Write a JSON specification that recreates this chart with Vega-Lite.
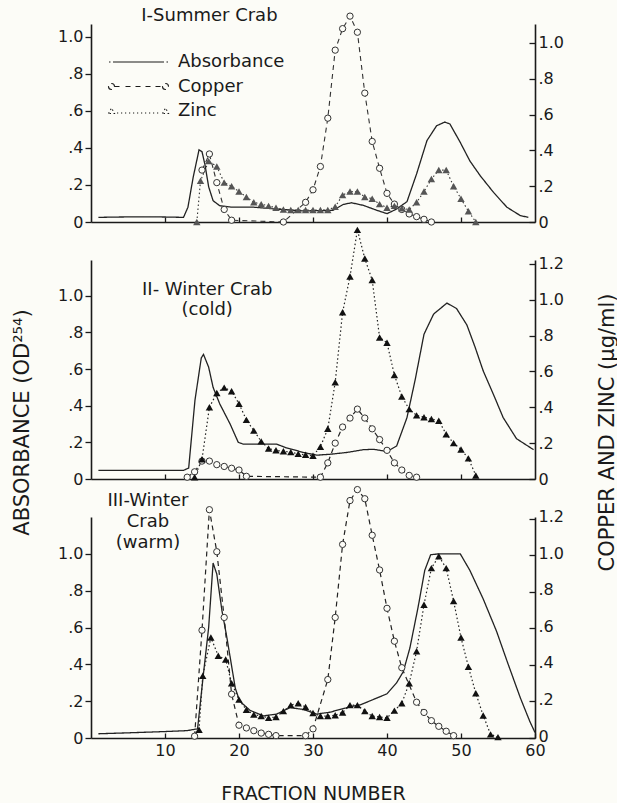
{
"$schema":"https://vega.github.io/schema/vega-lite/v6.json",
"background":"#fcfcf7",
"padding":{"left":11,"top":6,"right":0,"bottom":0},
"config":{"view":{"stroke":null},"font":"DejaVu Sans",
"axis":{"domainColor":"#1a1a1a","domainWidth":1.6,"tickColor":"#1a1a1a","tickWidth":1.3,"grid":false,"labelFont":"DejaVu Sans","labelFontSize":16,"labelColor":"#1a1a1a","titleFont":"DejaVu Sans","titleFontWeight":"normal","titleColor":"#1a1a1a","titleFontSize":21}},
"datasets":{"titles":[{"panel":"I","label":"I-Summer Crab"},{"panel":"II","label":"II- Winter Crab\n(cold)"},{"panel":"III","label":"III-Winter\nCrab\n(warm)"}]},
"data":{"values":[
{"panel":"I","series":"Absorbance","fraction":1,"value":0.025},{"panel":"I","series":"Absorbance","fraction":4,"value":0.027},{"panel":"I","series":"Absorbance","fraction":7,"value":0.028},{"panel":"I","series":"Absorbance","fraction":10,"value":0.027},{"panel":"I","series":"Absorbance","fraction":12.5,"value":0.025},{"panel":"I","series":"Absorbance","fraction":13.1,"value":0.08},{"panel":"I","series":"Absorbance","fraction":13.8,"value":0.24},{"panel":"I","series":"Absorbance","fraction":14.6,"value":0.39},{"panel":"I","series":"Absorbance","fraction":15.0,"value":0.38},{"panel":"I","series":"Absorbance","fraction":15.4,"value":0.31},{"panel":"I","series":"Absorbance","fraction":15.9,"value":0.19},{"panel":"I","series":"Absorbance","fraction":16.5,"value":0.115},{"panel":"I","series":"Absorbance","fraction":17.4,"value":0.088},{"panel":"I","series":"Absorbance","fraction":19,"value":0.08},{"panel":"I","series":"Absorbance","fraction":22,"value":0.08},{"panel":"I","series":"Absorbance","fraction":25,"value":0.07},{"panel":"I","series":"Absorbance","fraction":28.7,"value":0.06},{"panel":"I","series":"Absorbance","fraction":32.7,"value":0.063},{"panel":"I","series":"Absorbance","fraction":34.1,"value":0.095},{"panel":"I","series":"Absorbance","fraction":35.2,"value":0.104},{"panel":"I","series":"Absorbance","fraction":36.8,"value":0.09},{"panel":"I","series":"Absorbance","fraction":38.5,"value":0.065},{"panel":"I","series":"Absorbance","fraction":40,"value":0.045},{"panel":"I","series":"Absorbance","fraction":41.3,"value":0.07},{"panel":"I","series":"Absorbance","fraction":42.7,"value":0.11},{"panel":"I","series":"Absorbance","fraction":44,"value":0.26},{"panel":"I","series":"Absorbance","fraction":45.4,"value":0.44},{"panel":"I","series":"Absorbance","fraction":46.7,"value":0.52},{"panel":"I","series":"Absorbance","fraction":47.8,"value":0.54},{"panel":"I","series":"Absorbance","fraction":48.5,"value":0.53},{"panel":"I","series":"Absorbance","fraction":49.9,"value":0.43},{"panel":"I","series":"Absorbance","fraction":51.2,"value":0.33},{"panel":"I","series":"Absorbance","fraction":52.6,"value":0.25},{"panel":"I","series":"Absorbance","fraction":54.4,"value":0.16},{"panel":"I","series":"Absorbance","fraction":56.2,"value":0.08},{"panel":"I","series":"Absorbance","fraction":58,"value":0.035},{"panel":"I","series":"Absorbance","fraction":59.1,"value":0.025},
{"panel":"I","series":"Copper","fraction":15,"value":0.29},{"panel":"I","series":"Copper","fraction":16,"value":0.38},{"panel":"I","series":"Copper","fraction":17,"value":0.22},{"panel":"I","series":"Copper","fraction":18,"value":0.07},{"panel":"I","series":"Copper","fraction":19,"value":0.01},{"panel":"I","series":"Copper","fraction":26,"value":0.0},{"panel":"I","series":"Copper","fraction":29,"value":0.11},{"panel":"I","series":"Copper","fraction":30,"value":0.18},{"panel":"I","series":"Copper","fraction":31,"value":0.31},{"panel":"I","series":"Copper","fraction":32,"value":0.58},{"panel":"I","series":"Copper","fraction":33,"value":0.96},{"panel":"I","series":"Copper","fraction":34,"value":1.08},{"panel":"I","series":"Copper","fraction":35,"value":1.15},{"panel":"I","series":"Copper","fraction":36,"value":1.06},{"panel":"I","series":"Copper","fraction":37,"value":0.72},{"panel":"I","series":"Copper","fraction":38,"value":0.45},{"panel":"I","series":"Copper","fraction":39,"value":0.3},{"panel":"I","series":"Copper","fraction":40,"value":0.16},{"panel":"I","series":"Copper","fraction":41,"value":0.1},{"panel":"I","series":"Copper","fraction":42,"value":0.07},{"panel":"I","series":"Copper","fraction":43,"value":0.045},{"panel":"I","series":"Copper","fraction":44,"value":0.03},{"panel":"I","series":"Copper","fraction":45,"value":0.015},{"panel":"I","series":"Copper","fraction":46,"value":0.0},
{"panel":"I","series":"Zinc","fraction":14.3,"value":0.0},{"panel":"I","series":"Zinc","fraction":14.8,"value":0.23},{"panel":"I","series":"Zinc","fraction":15.9,"value":0.34},{"panel":"I","series":"Zinc","fraction":17,"value":0.31},{"panel":"I","series":"Zinc","fraction":18,"value":0.22},{"panel":"I","series":"Zinc","fraction":19,"value":0.2},{"panel":"I","series":"Zinc","fraction":20,"value":0.17},{"panel":"I","series":"Zinc","fraction":21,"value":0.14},{"panel":"I","series":"Zinc","fraction":22,"value":0.11},{"panel":"I","series":"Zinc","fraction":23,"value":0.1},{"panel":"I","series":"Zinc","fraction":24,"value":0.09},{"panel":"I","series":"Zinc","fraction":25,"value":0.08},{"panel":"I","series":"Zinc","fraction":26,"value":0.07},{"panel":"I","series":"Zinc","fraction":27,"value":0.067},{"panel":"I","series":"Zinc","fraction":28,"value":0.067},{"panel":"I","series":"Zinc","fraction":29,"value":0.067},{"panel":"I","series":"Zinc","fraction":30,"value":0.067},{"panel":"I","series":"Zinc","fraction":31,"value":0.067},{"panel":"I","series":"Zinc","fraction":32,"value":0.067},{"panel":"I","series":"Zinc","fraction":33,"value":0.085},{"panel":"I","series":"Zinc","fraction":34,"value":0.15},{"panel":"I","series":"Zinc","fraction":35,"value":0.17},{"panel":"I","series":"Zinc","fraction":36,"value":0.17},{"panel":"I","series":"Zinc","fraction":37,"value":0.14},{"panel":"I","series":"Zinc","fraction":38,"value":0.13},{"panel":"I","series":"Zinc","fraction":39,"value":0.1},{"panel":"I","series":"Zinc","fraction":40,"value":0.08},{"panel":"I","series":"Zinc","fraction":41,"value":0.09},{"panel":"I","series":"Zinc","fraction":42,"value":0.076},{"panel":"I","series":"Zinc","fraction":43,"value":0.07},{"panel":"I","series":"Zinc","fraction":44,"value":0.11},{"panel":"I","series":"Zinc","fraction":45,"value":0.17},{"panel":"I","series":"Zinc","fraction":46,"value":0.24},{"panel":"I","series":"Zinc","fraction":47,"value":0.29},{"panel":"I","series":"Zinc","fraction":48,"value":0.29},{"panel":"I","series":"Zinc","fraction":49,"value":0.2},{"panel":"I","series":"Zinc","fraction":50,"value":0.13},{"panel":"I","series":"Zinc","fraction":51,"value":0.06},{"panel":"I","series":"Zinc","fraction":52,"value":0.0},
{"panel":"II","series":"Absorbance","fraction":1,"value":0.047},{"panel":"II","series":"Absorbance","fraction":5,"value":0.047},{"panel":"II","series":"Absorbance","fraction":10,"value":0.047},{"panel":"II","series":"Absorbance","fraction":12.5,"value":0.047},{"panel":"II","series":"Absorbance","fraction":13.2,"value":0.06},{"panel":"II","series":"Absorbance","fraction":14.05,"value":0.43},{"panel":"II","series":"Absorbance","fraction":14.9,"value":0.66},{"panel":"II","series":"Absorbance","fraction":15.2,"value":0.68},{"panel":"II","series":"Absorbance","fraction":15.9,"value":0.61},{"panel":"II","series":"Absorbance","fraction":16.5,"value":0.5},{"panel":"II","series":"Absorbance","fraction":17.4,"value":0.41},{"panel":"II","series":"Absorbance","fraction":18.8,"value":0.3},{"panel":"II","series":"Absorbance","fraction":19.9,"value":0.2},{"panel":"II","series":"Absorbance","fraction":20.6,"value":0.19},{"panel":"II","series":"Absorbance","fraction":23.3,"value":0.19},{"panel":"II","series":"Absorbance","fraction":25.1,"value":0.19},{"panel":"II","series":"Absorbance","fraction":26.4,"value":0.17},{"panel":"II","series":"Absorbance","fraction":28.7,"value":0.145},{"panel":"II","series":"Absorbance","fraction":30.5,"value":0.13},{"panel":"II","series":"Absorbance","fraction":32.3,"value":0.135},{"panel":"II","series":"Absorbance","fraction":34.6,"value":0.145},{"panel":"II","series":"Absorbance","fraction":36.8,"value":0.16},{"panel":"II","series":"Absorbance","fraction":38.2,"value":0.162},{"panel":"II","series":"Absorbance","fraction":40,"value":0.15},{"panel":"II","series":"Absorbance","fraction":41.3,"value":0.18},{"panel":"II","series":"Absorbance","fraction":42.7,"value":0.335},{"panel":"II","series":"Absorbance","fraction":43.8,"value":0.54},{"panel":"II","series":"Absorbance","fraction":45,"value":0.79},{"panel":"II","series":"Absorbance","fraction":46.3,"value":0.9},{"panel":"II","series":"Absorbance","fraction":48.1,"value":0.96},{"panel":"II","series":"Absorbance","fraction":49.4,"value":0.93},{"panel":"II","series":"Absorbance","fraction":50.8,"value":0.84},{"panel":"II","series":"Absorbance","fraction":51.9,"value":0.72},{"panel":"II","series":"Absorbance","fraction":53,"value":0.59},{"panel":"II","series":"Absorbance","fraction":54.4,"value":0.46},{"panel":"II","series":"Absorbance","fraction":55.7,"value":0.335},{"panel":"II","series":"Absorbance","fraction":57.5,"value":0.22},{"panel":"II","series":"Absorbance","fraction":59.8,"value":0.16},
{"panel":"II","series":"Copper","fraction":13,"value":0.01},{"panel":"II","series":"Copper","fraction":14,"value":0.04},{"panel":"II","series":"Copper","fraction":15,"value":0.1},{"panel":"II","series":"Copper","fraction":16,"value":0.1},{"panel":"II","series":"Copper","fraction":17,"value":0.08},{"panel":"II","series":"Copper","fraction":18,"value":0.07},{"panel":"II","series":"Copper","fraction":19,"value":0.06},{"panel":"II","series":"Copper","fraction":20,"value":0.05},{"panel":"II","series":"Copper","fraction":21,"value":0.015},{"panel":"II","series":"Copper","fraction":31,"value":0.01},{"panel":"II","series":"Copper","fraction":32,"value":0.09},{"panel":"II","series":"Copper","fraction":33,"value":0.2},{"panel":"II","series":"Copper","fraction":34,"value":0.29},{"panel":"II","series":"Copper","fraction":35,"value":0.34},{"panel":"II","series":"Copper","fraction":36,"value":0.39},{"panel":"II","series":"Copper","fraction":37,"value":0.34},{"panel":"II","series":"Copper","fraction":38,"value":0.28},{"panel":"II","series":"Copper","fraction":39,"value":0.22},{"panel":"II","series":"Copper","fraction":40,"value":0.16},{"panel":"II","series":"Copper","fraction":41,"value":0.09},{"panel":"II","series":"Copper","fraction":42,"value":0.05},{"panel":"II","series":"Copper","fraction":43,"value":0.02},{"panel":"II","series":"Copper","fraction":44,"value":0.01},
{"panel":"II","series":"Zinc","fraction":14,"value":0.01},{"panel":"II","series":"Zinc","fraction":15,"value":0.11},{"panel":"II","series":"Zinc","fraction":16,"value":0.4},{"panel":"II","series":"Zinc","fraction":17,"value":0.48},{"panel":"II","series":"Zinc","fraction":18,"value":0.51},{"panel":"II","series":"Zinc","fraction":19,"value":0.49},{"panel":"II","series":"Zinc","fraction":20,"value":0.42},{"panel":"II","series":"Zinc","fraction":21,"value":0.33},{"panel":"II","series":"Zinc","fraction":22,"value":0.27},{"panel":"II","series":"Zinc","fraction":23,"value":0.21},{"panel":"II","series":"Zinc","fraction":24,"value":0.17},{"panel":"II","series":"Zinc","fraction":25,"value":0.16},{"panel":"II","series":"Zinc","fraction":26,"value":0.155},{"panel":"II","series":"Zinc","fraction":27,"value":0.15},{"panel":"II","series":"Zinc","fraction":28,"value":0.14},{"panel":"II","series":"Zinc","fraction":29,"value":0.135},{"panel":"II","series":"Zinc","fraction":30,"value":0.13},{"panel":"II","series":"Zinc","fraction":31,"value":0.18},{"panel":"II","series":"Zinc","fraction":32,"value":0.28},{"panel":"II","series":"Zinc","fraction":33,"value":0.54},{"panel":"II","series":"Zinc","fraction":34,"value":0.93},{"panel":"II","series":"Zinc","fraction":35,"value":1.13},{"panel":"II","series":"Zinc","fraction":36,"value":1.39},{"panel":"II","series":"Zinc","fraction":37,"value":1.23},{"panel":"II","series":"Zinc","fraction":38,"value":1.11},{"panel":"II","series":"Zinc","fraction":39,"value":0.79},{"panel":"II","series":"Zinc","fraction":40,"value":0.76},{"panel":"II","series":"Zinc","fraction":41,"value":0.58},{"panel":"II","series":"Zinc","fraction":42,"value":0.46},{"panel":"II","series":"Zinc","fraction":43,"value":0.39},{"panel":"II","series":"Zinc","fraction":44,"value":0.355},{"panel":"II","series":"Zinc","fraction":45,"value":0.345},{"panel":"II","series":"Zinc","fraction":46,"value":0.335},{"panel":"II","series":"Zinc","fraction":47,"value":0.325},{"panel":"II","series":"Zinc","fraction":48,"value":0.25},{"panel":"II","series":"Zinc","fraction":49,"value":0.2},{"panel":"II","series":"Zinc","fraction":50,"value":0.165},{"panel":"II","series":"Zinc","fraction":51,"value":0.115},{"panel":"II","series":"Zinc","fraction":52,"value":0.02},
{"panel":"III","series":"Absorbance","fraction":1,"value":0.023},{"panel":"III","series":"Absorbance","fraction":5,"value":0.028},{"panel":"III","series":"Absorbance","fraction":10,"value":0.035},{"panel":"III","series":"Absorbance","fraction":13,"value":0.04},{"panel":"III","series":"Absorbance","fraction":14.4,"value":0.05},{"panel":"III","series":"Absorbance","fraction":15.2,"value":0.35},{"panel":"III","series":"Absorbance","fraction":15.9,"value":0.6},{"panel":"III","series":"Absorbance","fraction":16.5,"value":0.95},{"panel":"III","series":"Absorbance","fraction":17,"value":0.89},{"panel":"III","series":"Absorbance","fraction":17.7,"value":0.69},{"panel":"III","series":"Absorbance","fraction":18.3,"value":0.56},{"panel":"III","series":"Absorbance","fraction":18.8,"value":0.44},{"panel":"III","series":"Absorbance","fraction":19.5,"value":0.27},{"panel":"III","series":"Absorbance","fraction":20.1,"value":0.2},{"panel":"III","series":"Absorbance","fraction":21.5,"value":0.15},{"panel":"III","series":"Absorbance","fraction":23.3,"value":0.12},{"panel":"III","series":"Absorbance","fraction":25.1,"value":0.13},{"panel":"III","series":"Absorbance","fraction":26.9,"value":0.165},{"panel":"III","series":"Absorbance","fraction":28.7,"value":0.155},{"panel":"III","series":"Absorbance","fraction":30.5,"value":0.13},{"panel":"III","series":"Absorbance","fraction":32.3,"value":0.14},{"panel":"III","series":"Absorbance","fraction":35,"value":0.17},{"panel":"III","series":"Absorbance","fraction":36.4,"value":0.18},{"panel":"III","series":"Absorbance","fraction":38.2,"value":0.21},{"panel":"III","series":"Absorbance","fraction":40,"value":0.24},{"panel":"III","series":"Absorbance","fraction":41.3,"value":0.3},{"panel":"III","series":"Absorbance","fraction":42.2,"value":0.36},{"panel":"III","series":"Absorbance","fraction":43.1,"value":0.49},{"panel":"III","series":"Absorbance","fraction":44.2,"value":0.71},{"panel":"III","series":"Absorbance","fraction":45.1,"value":0.91},{"panel":"III","series":"Absorbance","fraction":45.9,"value":0.995},{"panel":"III","series":"Absorbance","fraction":47,"value":1.0},{"panel":"III","series":"Absorbance","fraction":48.5,"value":1.0},{"panel":"III","series":"Absorbance","fraction":49.9,"value":1.0},{"panel":"III","series":"Absorbance","fraction":51.2,"value":0.91},{"panel":"III","series":"Absorbance","fraction":53,"value":0.755},{"panel":"III","series":"Absorbance","fraction":54.8,"value":0.58},{"panel":"III","series":"Absorbance","fraction":56.2,"value":0.42},{"panel":"III","series":"Absorbance","fraction":58,"value":0.22},{"panel":"III","series":"Absorbance","fraction":59.3,"value":0.09},{"panel":"III","series":"Absorbance","fraction":60,"value":0.03},
{"panel":"III","series":"Copper","fraction":14,"value":0.01},{"panel":"III","series":"Copper","fraction":15,"value":0.59},{"panel":"III","series":"Copper","fraction":16,"value":1.25},{"panel":"III","series":"Copper","fraction":17,"value":1.02},{"panel":"III","series":"Copper","fraction":18,"value":0.66},{"panel":"III","series":"Copper","fraction":19,"value":0.24},{"panel":"III","series":"Copper","fraction":20,"value":0.07},{"panel":"III","series":"Copper","fraction":21,"value":0.055},{"panel":"III","series":"Copper","fraction":22,"value":0.04},{"panel":"III","series":"Copper","fraction":23,"value":0.027},{"panel":"III","series":"Copper","fraction":24,"value":0.02},{"panel":"III","series":"Copper","fraction":25,"value":0.013},{"panel":"III","series":"Copper","fraction":29,"value":0.013},{"panel":"III","series":"Copper","fraction":30,"value":0.05},{"panel":"III","series":"Copper","fraction":32,"value":0.32},{"panel":"III","series":"Copper","fraction":33,"value":0.66},{"panel":"III","series":"Copper","fraction":34,"value":1.06},{"panel":"III","series":"Copper","fraction":35,"value":1.3},{"panel":"III","series":"Copper","fraction":36,"value":1.36},{"panel":"III","series":"Copper","fraction":37,"value":1.31},{"panel":"III","series":"Copper","fraction":38,"value":1.11},{"panel":"III","series":"Copper","fraction":39,"value":0.92},{"panel":"III","series":"Copper","fraction":40,"value":0.71},{"panel":"III","series":"Copper","fraction":41,"value":0.53},{"panel":"III","series":"Copper","fraction":42,"value":0.385},{"panel":"III","series":"Copper","fraction":44,"value":0.196},{"panel":"III","series":"Copper","fraction":45,"value":0.14},{"panel":"III","series":"Copper","fraction":46,"value":0.095},{"panel":"III","series":"Copper","fraction":47,"value":0.064},{"panel":"III","series":"Copper","fraction":48,"value":0.037},{"panel":"III","series":"Copper","fraction":49,"value":0.013},
{"panel":"III","series":"Zinc","fraction":14.6,"value":0.045},{"panel":"III","series":"Zinc","fraction":15.1,"value":0.34},{"panel":"III","series":"Zinc","fraction":16.2,"value":0.55},{"panel":"III","series":"Zinc","fraction":17.2,"value":0.45},{"panel":"III","series":"Zinc","fraction":18.2,"value":0.43},{"panel":"III","series":"Zinc","fraction":19,"value":0.3},{"panel":"III","series":"Zinc","fraction":20,"value":0.21},{"panel":"III","series":"Zinc","fraction":21,"value":0.155},{"panel":"III","series":"Zinc","fraction":22,"value":0.128},{"panel":"III","series":"Zinc","fraction":23,"value":0.12},{"panel":"III","series":"Zinc","fraction":24,"value":0.11},{"panel":"III","series":"Zinc","fraction":25,"value":0.115},{"panel":"III","series":"Zinc","fraction":26,"value":0.147},{"panel":"III","series":"Zinc","fraction":27,"value":0.18},{"panel":"III","series":"Zinc","fraction":28,"value":0.19},{"panel":"III","series":"Zinc","fraction":29,"value":0.17},{"panel":"III","series":"Zinc","fraction":30,"value":0.137},{"panel":"III","series":"Zinc","fraction":31,"value":0.12},{"panel":"III","series":"Zinc","fraction":32,"value":0.12},{"panel":"III","series":"Zinc","fraction":33,"value":0.125},{"panel":"III","series":"Zinc","fraction":34,"value":0.14},{"panel":"III","series":"Zinc","fraction":35,"value":0.18},{"panel":"III","series":"Zinc","fraction":36,"value":0.18},{"panel":"III","series":"Zinc","fraction":37,"value":0.147},{"panel":"III","series":"Zinc","fraction":38,"value":0.12},{"panel":"III","series":"Zinc","fraction":39,"value":0.115},{"panel":"III","series":"Zinc","fraction":40,"value":0.11},{"panel":"III","series":"Zinc","fraction":41,"value":0.15},{"panel":"III","series":"Zinc","fraction":42,"value":0.19},{"panel":"III","series":"Zinc","fraction":43,"value":0.3},{"panel":"III","series":"Zinc","fraction":44,"value":0.475},{"panel":"III","series":"Zinc","fraction":45,"value":0.73},{"panel":"III","series":"Zinc","fraction":46,"value":0.93},{"panel":"III","series":"Zinc","fraction":47,"value":0.995},{"panel":"III","series":"Zinc","fraction":48,"value":0.93},{"panel":"III","series":"Zinc","fraction":49,"value":0.75},{"panel":"III","series":"Zinc","fraction":50,"value":0.55},{"panel":"III","series":"Zinc","fraction":51,"value":0.39},{"panel":"III","series":"Zinc","fraction":52,"value":0.245},{"panel":"III","series":"Zinc","fraction":53,"value":0.123},{"panel":"III","series":"Zinc","fraction":54,"value":0.02},{"panel":"III","series":"Zinc","fraction":55,"value":0.005}
]},
"vconcat":[
{"width":444,"height":198,
 "layer":[
  {"mark":{"type":"line","stroke":"#222","strokeWidth":1.3},
   "transform":[{"filter":"datum.panel=='I' && datum.series=='Absorbance'"}],
   "encoding":{
    "x":{"field":"fraction","type":"quantitative","scale":{"domain":[0,60],"nice":false,"zero":false},"axis":{"values":[10,20,30,40,50],"labels":false,"tickSize":-5,"title":null}},
    "y":{"field":"value","type":"quantitative","scale":{"domain":[0,1.07],"nice":false},"axis":{"orient":"left","values":[0,0.2,0.4,0.6,0.8,1],"labelExpr":"datum.value == 0 ? '0' : (datum.value >= 1 ? format(datum.value, '.1f') : replace(format(datum.value, '.1f'), '0.', '.'))","tickSize":6,"labelPadding":2,"title":null}},
    "strokeDash":{"field":"series","type":"nominal","scale":{"domain":["Absorbance","Copper","Zinc"],"range":[[1,0],[5,4],[1.5,2.5]]},
     "legend":{"orient":"none","legendX":36.5,"legendY":27,"title":null,"symbolSize":400,"labelOffset":28.5,"rowPadding":4.5,"padding":0,"labelFontSize":18,"labelFont":"DejaVu Sans","labelColor":"#1a1a1a","symbolStrokeWidth":1.1,"symbolStrokeColor":"#1a1a1a","symbolFillColor":"#fcfcf7",
      "encode":{"symbols":{"update":{"shape":{"signal":"datum.value === 'Absorbance' ? 'M-2.95,0L-2.8,0M-2.55,0L2.55,0M2.8,0L2.95,0' : datum.value === 'Copper' ? 'M-3,0A0.3,0.3,0,1,0,-2.4,0A0.3,0.3,0,1,0,-3,0M-2.4,0L-1.7,0M-1.3,0L-0.7,0M-0.3,0L0.3,0M0.7,0L1.3,0M1.7,0L2.4,0M2.4,0A0.3,0.3,0,1,0,3,0A0.3,0.3,0,1,0,2.4,0' : 'M-3,0.25L-2.7,-0.3L-2.4,0.25ZM-2.15,0.2L-2.03,0.2M-1.75,0.2L-1.63,0.2M-1.35,0.2L-1.23,0.2M-0.95,0.2L-0.83,0.2M-0.55,0.2L-0.43,0.2M-0.15,0.2L-0.03,0.2M0.25,0.2L0.37,0.2M0.65,0.2L0.77,0.2M1.05,0.2L1.17,0.2M1.45,0.2L1.57,0.2M1.85,0.2L1.97,0.2M2.4,0.25L2.7,-0.3L3,0.25Z'"},"strokeDash":{"value":[1,0]},"stroke":{"value":"#1a1a1a"},"fill":{"value":"#fcfcf7"}}}}}}
   }},
  {"encoding":{
    "x":{"field":"fraction","type":"quantitative","scale":{"domain":[0,60],"nice":false,"zero":false},"axis":{"values":[10,20,30,40,50],"labels":false,"tickSize":-5,"title":null}},
    "y":{"field":"value","type":"quantitative","scale":{"domain":[0,1.106],"nice":false},"axis":{"orient":"right","values":[0,0.2,0.4,0.6,0.8,1],"labelExpr":"datum.value == 0 ? '0' : (datum.value >= 1 ? format(datum.value, '.1f') : replace(format(datum.value, '.1f'), '0.', '.'))","tickSize":-6,"labelPadding":9,"title":null}}},
   "layer":[
   {"mark":{"type":"line","stroke":"#333","strokeWidth":1.1},
    "transform":[{"filter":"datum.panel=='I' && datum.series!='Absorbance'"}],
    "encoding":{"strokeDash":{"field":"series","type":"nominal"}}},
   {"mark":{"type":"point","shape":"circle","filled":true,"fill":"#fcfcf7","stroke":"#333","strokeWidth":1,"size":40,"opacity":1},
    "transform":[{"filter":"datum.panel=='I' && datum.series=='Copper'"}]},
   {"mark":{"type":"point","shape":"triangle-up","filled":true,"color":"#555","size":55,"opacity":1},
    "transform":[{"filter":"datum.panel=='I' && datum.series=='Zinc'"}]}
  ]},
  {"data":{"name":"titles"},
   "transform":[{"filter":"datum.panel=='I'"}],
   "mark":{"type":"text","fontSize":18,"font":"DejaVu Sans","color":"#1a1a1a","align":"center","baseline":"middle"},
   "encoding":{"text":{"field":"label","type":"nominal"},"x":{"datum":16,"type":"quantitative"},"y":{"datum":1.114,"type":"quantitative","scale":{"domain":[0,1.07],"nice":false},"axis":null}}}
 ],
 "resolve":{"scale":{"y":"independent"}}
},
{"width":444,"height":219,
 "layer":[
  {"mark":{"type":"line","stroke":"#222","strokeWidth":1.3},
   "transform":[{"filter":"datum.panel=='II' && datum.series=='Absorbance'"}],
   "encoding":{
    "x":{"field":"fraction","type":"quantitative","scale":{"domain":[0,60],"nice":false,"zero":false},"axis":{"values":[10,20,30,40,50],"labels":false,"tickSize":-5,"title":null}},
    "y":{"field":"value","type":"quantitative","scale":{"domain":[0,1.195],"nice":false},"axis":{"orient":"left","values":[0,0.2,0.4,0.6,0.8,1],"labelExpr":"datum.value == 0 ? '0' : (datum.value >= 1 ? format(datum.value, '.1f') : replace(format(datum.value, '.1f'), '0.', '.'))","tickSize":6,"labelPadding":2,"title":"ABSORBANCE (OD²⁵⁴)","titleX":-63,"titleY":162,"titleAngle":270,"titleBaseline":"alphabetic","titleAlign":"center"}},
    "strokeDash":{"field":"series","type":"nominal","scale":{"domain":["Absorbance","Copper","Zinc"],"range":[[1,0],[5,4],[1.5,2.5]]},"legend":null}
   }},
  {"encoding":{
    "x":{"field":"fraction","type":"quantitative","scale":{"domain":[0,60],"nice":false,"zero":false},"axis":{"values":[10,20,30,40,50],"labels":false,"tickSize":-5,"title":null}},
    "y":{"field":"value","type":"quantitative","scale":{"domain":[0,1.222],"nice":false},"axis":{"orient":"right","values":[0,0.2,0.4,0.6,0.8,1,1.2],"labelExpr":"datum.value == 0 ? '0' : (datum.value >= 1 ? format(datum.value, '.1f') : replace(format(datum.value, '.1f'), '0.', '.'))","tickSize":-6,"labelPadding":9,"title":"COPPER AND ZINC (µg/ml)","titleX":78,"titleY":172,"titleAngle":270,"titleBaseline":"alphabetic","titleAlign":"center"}}},
   "layer":[
   {"mark":{"type":"line","stroke":"#222","strokeWidth":1.2},
    "transform":[{"filter":"datum.panel=='II' && datum.series!='Absorbance'"}],
    "encoding":{"strokeDash":{"field":"series","type":"nominal","legend":null}}},
   {"mark":{"type":"point","shape":"circle","filled":true,"fill":"#fcfcf7","stroke":"#333","strokeWidth":1,"size":40,"opacity":1},
    "transform":[{"filter":"datum.panel=='II' && datum.series=='Copper'"}]},
   {"mark":{"type":"point","shape":"triangle-up","filled":true,"color":"#111","size":55,"opacity":1},
    "transform":[{"filter":"datum.panel=='II' && datum.series=='Zinc'"}]}
  ]},
  {"data":{"name":"titles"},
   "transform":[{"filter":"datum.panel=='II'"}],
   "mark":{"type":"text","fontSize":18,"font":"DejaVu Sans","color":"#1a1a1a","align":"center","baseline":"top","lineBreak":"\n","lineHeight":19.5},
   "encoding":{"text":{"field":"label","type":"nominal"},"x":{"datum":15.7,"type":"quantitative"},"y":{"datum":1.078,"type":"quantitative","scale":{"domain":[0,1.195],"nice":false},"axis":null}}}
 ],
 "resolve":{"scale":{"y":"independent"}}
},
{"width":444,"height":221,
 "layer":[
  {"mark":{"type":"line","stroke":"#222","strokeWidth":1.3},
   "transform":[{"filter":"datum.panel=='III' && datum.series=='Absorbance'"}],
   "encoding":{
    "x":{"field":"fraction","type":"quantitative","scale":{"domain":[0,60],"nice":false,"zero":false},"axis":{"values":[10,20,30,40,50,60],"tickSize":-5,"labelPadding":9,"labelFlush":false,"title":"FRACTION NUMBER","titleFontSize":19,"titleY":61,"titleBaseline":"alphabetic"}},
    "y":{"field":"value","type":"quantitative","scale":{"domain":[0,1.2],"nice":false},"axis":{"orient":"left","values":[0,0.2,0.4,0.6,0.8,1],"labelExpr":"datum.value == 0 ? '0' : (datum.value >= 1 ? format(datum.value, '.1f') : replace(format(datum.value, '.1f'), '0.', '.'))","tickSize":6,"labelPadding":2,"title":null}},
    "strokeDash":{"field":"series","type":"nominal","scale":{"domain":["Absorbance","Copper","Zinc"],"range":[[1,0],[5,4],[1.5,2.5]]},"legend":null}
   }},
  {"encoding":{
    "x":{"field":"fraction","type":"quantitative","scale":{"domain":[0,60],"nice":false,"zero":false},"axis":{"values":[10,20,30,40,50,60],"tickSize":-5,"labelPadding":9,"labelFlush":false,"title":"FRACTION NUMBER","titleFontSize":19,"titleY":61,"titleBaseline":"alphabetic"}},
    "y":{"field":"value","type":"quantitative","scale":{"domain":[0,1.21],"nice":false},"axis":{"orient":"right","values":[0,0.2,0.4,0.6,0.8,1,1.2],"labelExpr":"datum.value == 0 ? '0' : (datum.value >= 1 ? format(datum.value, '.1f') : replace(format(datum.value, '.1f'), '0.', '.'))","tickSize":-6,"labelPadding":9,"labelOffset":-2,"title":null}}},
   "layer":[
   {"mark":{"type":"line","stroke":"#222","strokeWidth":1.2},
    "transform":[{"filter":"datum.panel=='III' && datum.series!='Absorbance'"}],
    "encoding":{"strokeDash":{"field":"series","type":"nominal","legend":null}}},
   {"mark":{"type":"point","shape":"circle","filled":true,"fill":"#fcfcf7","stroke":"#333","strokeWidth":1,"size":40,"opacity":1},
    "transform":[{"filter":"datum.panel=='III' && datum.series=='Copper'"}]},
   {"mark":{"type":"point","shape":"triangle-up","filled":true,"color":"#111","size":55,"opacity":1},
    "transform":[{"filter":"datum.panel=='III' && datum.series=='Zinc'"}]}
  ]},
  {"data":{"name":"titles"},
   "transform":[{"filter":"datum.panel=='III'"}],
   "mark":{"type":"text","fontSize":18,"font":"DejaVu Sans","color":"#1a1a1a","align":"center","baseline":"top","lineBreak":"\n","lineHeight":21},
   "encoding":{"text":{"field":"label","type":"nominal"},"x":{"datum":7.7,"type":"quantitative"},"y":{"datum":1.337,"type":"quantitative","scale":{"domain":[0,1.2],"nice":false},"axis":null}}}
 ],
 "resolve":{"scale":{"y":"independent"}}
}
],
"spacing":38,
"bounds":"flush",
"resolve":{"scale":{"x":"independent","y":"independent","strokeDash":"independent"},"legend":{"strokeDash":"independent"}}
}
